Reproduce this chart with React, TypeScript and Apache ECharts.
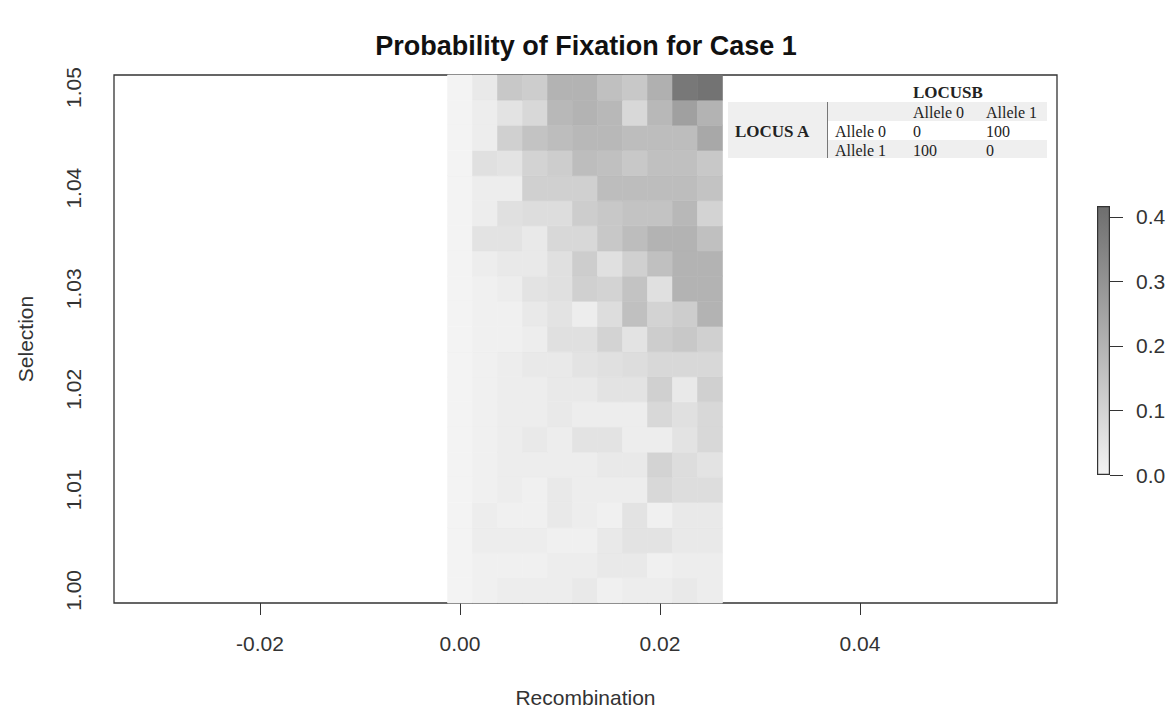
import React, { useEffect, useRef } from "react";
import * as echarts from "echarts";

// ---- data ----
const recombination = [0, 0.0025, 0.005, 0.0075, 0.01, 0.0125, 0.015, 0.0175, 0.02, 0.0225, 0.025];
const selection = [
  1.0, 1.0025, 1.005, 1.0075, 1.01, 1.0125, 1.015, 1.0175, 1.02, 1.0225, 1.025,
  1.0275, 1.03, 1.0325, 1.035, 1.0375, 1.04, 1.0425, 1.045, 1.0475, 1.05,
];
// probability of fixation, one row per selection value (bottom to top), one column per recombination value
const fixationProb = [
  [0, 0.01, 0.02, 0.02, 0.02, 0.03, 0.01, 0.02, 0.02, 0.03, 0.02],
  [0, 0.01, 0.01, 0.01, 0.02, 0.02, 0.03, 0.03, 0.01, 0.02, 0.02],
  [0, 0.02, 0.02, 0.02, 0.01, 0.01, 0.03, 0.05, 0.05, 0.03, 0.03],
  [0, 0.02, 0.01, 0.01, 0.03, 0.02, 0.01, 0.05, 0.01, 0.03, 0.03],
  [0, 0.01, 0.02, 0.01, 0.03, 0.02, 0.02, 0.02, 0.085, 0.07, 0.07],
  [0, 0.01, 0.02, 0.02, 0.02, 0.02, 0.03, 0.03, 0.1, 0.07, 0.05],
  [0, 0.01, 0.02, 0.03, 0.02, 0.05, 0.05, 0.02, 0.02, 0.05, 0.085],
  [0, 0.01, 0.02, 0.02, 0.03, 0.02, 0.02, 0.02, 0.085, 0.06, 0.085],
  [0, 0.01, 0.02, 0.02, 0.03, 0.03, 0.05, 0.05, 0.11, 0.03, 0.11],
  [0, 0.01, 0.02, 0.03, 0.03, 0.05, 0.06, 0.07, 0.085, 0.085, 0.085],
  [0, 0.01, 0.01, 0.02, 0.06, 0.06, 0.1, 0.05, 0.12, 0.135, 0.11],
  [0, 0.01, 0.01, 0.03, 0.05, 0.02, 0.07, 0.16, 0.1, 0.12, 0.2],
  [0, 0.01, 0.02, 0.05, 0.06, 0.11, 0.1, 0.15, 0.06, 0.2, 0.2],
  [0, 0.02, 0.03, 0.03, 0.06, 0.12, 0.06, 0.11, 0.16, 0.2, 0.2],
  [0, 0.05, 0.05, 0.03, 0.085, 0.085, 0.135, 0.17, 0.2, 0.2, 0.16],
  [0, 0.02, 0.06, 0.07, 0.07, 0.12, 0.135, 0.15, 0.15, 0.185, 0.1],
  [0, 0.02, 0.02, 0.11, 0.11, 0.11, 0.17, 0.17, 0.17, 0.17, 0.15],
  [0, 0.06, 0.05, 0.1, 0.12, 0.17, 0.16, 0.135, 0.16, 0.16, 0.135],
  [0, 0.02, 0.11, 0.15, 0.17, 0.185, 0.185, 0.17, 0.17, 0.17, 0.235],
  [0, 0.02, 0.05, 0.085, 0.185, 0.2, 0.185, 0.085, 0.185, 0.26, 0.2],
  [0, 0.03, 0.135, 0.12, 0.2, 0.2, 0.16, 0.135, 0.21, 0.385, 0.4],
];
const xTicks = [-0.02, 0, 0.02, 0.04];
const yTicks = [1.0, 1.01, 1.02, 1.03, 1.04, 1.05];
const colorTicks = [0, 0.1, 0.2, 0.3, 0.4];
const colorMax = 0.417;

// inset table
const locusBAlleles = ["Allele 0", "Allele 1"];
const locusAAlleles = ["Allele 0", "Allele 1"];
const genotypeCounts = [
  [0, 100],
  [100, 0],
];

const SANS = "'Liberation Sans', Arial, sans-serif";
const SERIF = "'Liberation Serif', 'Times New Roman', serif";

function buildTable(): any[] {
  const els: any[] = [];
  const gray = "#efefef";
  els.push({ type: "rect", shape: { x: 728, y: 102, width: 99, height: 56 }, style: { fill: gray } });
  els.push({ type: "rect", shape: { x: 827, y: 102, width: 220, height: 19 }, style: { fill: gray } });
  els.push({ type: "rect", shape: { x: 827, y: 140, width: 220, height: 18 }, style: { fill: gray } });
  els.push({ type: "line", shape: { x1: 827.5, y1: 102, x2: 827.5, y2: 158 }, style: { stroke: "#777", lineWidth: 1 } });
  const txt = (t: string, x: number, y: number, bold = false) => ({
    type: "text",
    x,
    y,
    style: {
      text: t,
      fontFamily: SERIF,
      fontSize: bold ? 17 : 16,
      fontWeight: bold ? "bold" : "normal",
      fill: "#222",
      textAlign: "left",
      textVerticalAlign: "middle",
    },
  });
  els.push(txt("LOCUSB", 913, 92, true));
  els.push(txt("LOCUS A", 735, 131, true));
  const colX = [913, 986];
  locusBAlleles.forEach((a, i) => els.push(txt(a, colX[i], 112)));
  const rowY = [131, 150];
  locusAAlleles.forEach((a, r) => {
    els.push(txt(a, 835, rowY[r]));
    genotypeCounts[r].forEach((v, c) => els.push(txt(String(v), colX[c], rowY[r])));
  });
  return els;
}

export default function App() {
  const ref = useRef<HTMLDivElement>(null);
  useEffect(() => {
    if (!ref.current) return;
    const chart = echarts.init(ref.current, null, { renderer: "svg" });
    const halfW = (recombination[1] - recombination[0]) / 2;
    const halfH = (selection[1] - selection[0]) / 2;
    const cells: number[][] = [];
    fixationProb.forEach((row, r) => row.forEach((v, c) => cells.push([recombination[c], selection[r], v])));

    const axisText = { fontFamily: SANS, fontSize: 21, color: "#333" };

    chart.setOption({
      animation: false,
      backgroundColor: "#fff",
      title: {
        text: "Probability of Fixation for Case 1",
        left: "center",
        top: 32,
        padding: 0,
        textStyle: { fontFamily: SANS, fontSize: 27, fontWeight: "bold", color: "#111" },
      },
      grid: [
        { left: 114, right: 115, top: 75, bottom: 109, show: true, borderColor: "#333", borderWidth: 1.3, backgroundColor: "transparent" },
        { left: 1097, top: 206, width: 13, height: 269 },
      ],
      xAxis: [
        {
          type: "value",
          gridIndex: 0,
          min: -0.0346,
          max: 0.0597,
          name: "Recombination",
          nameLocation: "middle",
          nameGap: 84,
          nameTextStyle: axisText,
          axisLine: { show: false },
          splitLine: { show: false },
          axisTick: { show: true, length: 12, lineStyle: { color: "#333" }, customValues: xTicks },
          axisLabel: { ...axisText, margin: 30, customValues: xTicks, formatter: (v: number) => v.toFixed(2) },
        },
        { type: "category", gridIndex: 1, data: ["scale"], show: false },
      ],
      yAxis: [
        {
          type: "value",
          gridIndex: 0,
          min: 0.99875,
          max: 1.05125,
          name: "Selection",
          nameLocation: "middle",
          nameRotate: 90,
          nameGap: 78,
          nameTextStyle: axisText,
          axisLine: { show: false },
          splitLine: { show: false },
          axisTick: { show: true, length: 12, lineStyle: { color: "#333" }, customValues: yTicks },
          axisLabel: { ...axisText, margin: 30, rotate: 90, customValues: yTicks, formatter: (v: number) => v.toFixed(2) },
        },
        {
          type: "value",
          gridIndex: 1,
          position: "right",
          min: 0,
          max: colorMax,
          axisLine: { show: false },
          splitLine: { show: false },
          axisTick: { show: true, length: 13, lineStyle: { color: "#333" }, customValues: colorTicks },
          axisLabel: { ...axisText, margin: 26, customValues: colorTicks, formatter: (v: number) => v.toFixed(1) },
        },
      ],
      visualMap: {
        type: "continuous",
        show: false,
        seriesIndex: 0,
        dimension: 2,
        min: 0,
        max: colorMax,
        inRange: { color: ["#f3f3f3", "#6e6e6e"] },
      },
      series: [
        {
          type: "custom",
          xAxisIndex: 0,
          yAxisIndex: 0,
          data: cells,
          renderItem: (params: any, api: any) => {
            const x = api.value(0);
            const y = api.value(1);
            const p0 = api.coord([x - halfW, y + halfH]);
            const p1 = api.coord([x + halfW, y - halfH]);
            const color = api.visual("color");
            return {
              type: "rect",
              shape: { x: p0[0], y: p0[1], width: p1[0] - p0[0], height: p1[1] - p0[1] },
              style: { fill: color, stroke: color, lineWidth: 0.6 },
            };
          },
        },
        {
          type: "bar",
          xAxisIndex: 1,
          yAxisIndex: 1,
          data: [colorMax],
          barWidth: "100%",
          itemStyle: {
            color: new echarts.graphic.LinearGradient(0, 0, 0, 1, [
              { offset: 0, color: "#6e6e6e" },
              { offset: 1, color: "#f3f3f3" },
            ]),
            borderColor: "#333",
            borderWidth: 1.2,
          },
        },
      ],
      graphic: buildTable(),
    });
    return () => chart.dispose();
  }, []);
  return <div ref={ref} style={{ position: "fixed", left: 0, top: 0, width: 1172, height: 713 }} />;
}
